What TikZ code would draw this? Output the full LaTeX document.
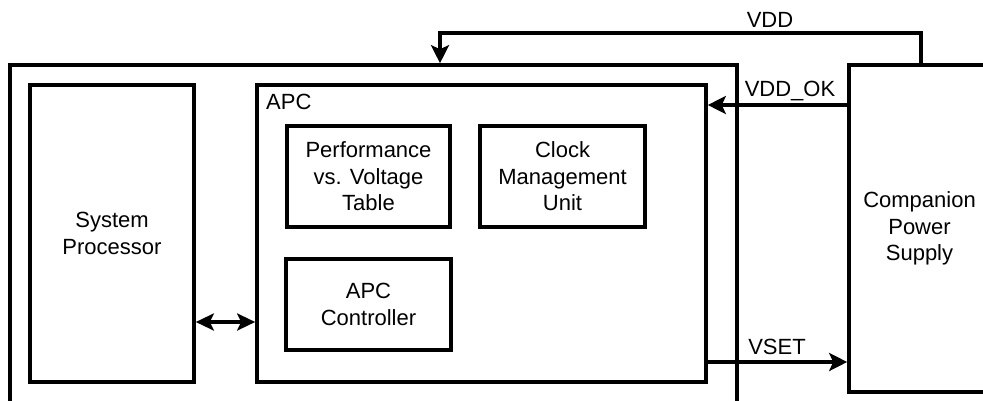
\documentclass[tikz,border=0pt]{standalone}
\usepackage{fontspec}
\setmainfont{Liberation Sans}
\usetikzlibrary{arrows.meta}
\begin{document}
\begin{tikzpicture}[x=1pt,y=-1pt,
  blk/.style={draw=black, line width=3.6pt, fill=none, inner sep=0pt, align=center,
    font=\fontsize{22}{26.5}\selectfont},
  lbl/.style={inner sep=0pt, font=\fontsize{22}{26.5}\selectfont},
  arr/.style={line width=3.4pt, -{Stealth[length=18pt,width=18pt,inset=4pt]}},
  darr/.style={line width=3.4pt, {Stealth[length=18pt,width=17pt,inset=4pt]}-{Stealth[length=18pt,width=17pt,inset=4pt]}}
]
\useasboundingbox (0,0) rectangle (983,400);
\begin{scope}
\clip (0,0) rectangle (983,400);
% boxes
\node[blk, minimum width=727pt, minimum height=350pt] (outer) at (373.5,240) {};
\node[blk, minimum width=164pt, minimum height=297pt] (sp) at (112,233.5) {System\\Processor};
\node[blk, minimum width=449pt, minimum height=297pt] (apc) at (481.5,233.5) {};
\node[lbl, anchor=west] (apclbl) at (266,102) {APC};
\node[blk, minimum width=163pt, minimum height=101pt] (pvt) at (368.5,176.5) {Performance\\vs. Voltage\\Table};
\node[blk, minimum width=165pt, minimum height=101pt] (cmu) at (562.5,176.5) {Clock\\Management\\Unit};
\node[blk, minimum width=165pt, minimum height=91pt] (ctl) at (368.5,304.5) {APC\\Controller};
\node[blk, minimum width=151pt, minimum height=327pt, text width=130pt, xshift=0pt] (cps) at (924.5,228.5) {};
\node[lbl, align=center] (cpstext) at (919.5,228.5) {Companion\\Power\\Supply};
% connectors
\coordinate (vr) at (921,33);
\coordinate (vl) at (440,33);
\draw[arr] (vr |- cps.north) -- (vr) -- (vl) -- (vl |- outer.north);
\node[lbl] (vddlbl) at (770,20) {VDD};
\coordinate (ok) at (780,105);
\draw[arr] (ok -| cps.west) -- (ok -| apc.east);
\node[lbl] (oklbl) at (790,91) {VDD\_OK};
\coordinate (vs) at (780,362);
\draw[arr] (vs -| apc.east) -- (vs -| cps.west);
\node[lbl] (vslbl) at (777,347) {VSET};
\coordinate (da) at (225,322);
\draw[darr] (da -| sp.east) -- (da -| apc.west);
\end{scope}
\end{tikzpicture}
\end{document}
